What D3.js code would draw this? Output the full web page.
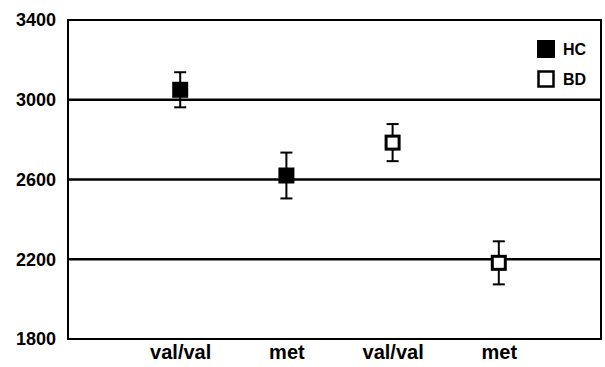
<!DOCTYPE html>
<html>
<head>
<meta charset="utf-8">
<script src="https://cdn.jsdelivr.net/npm/d3@7"></script>
<style>
  body { margin: 0; background: #fff; }
  text { font-family: Arial, "Liberation Sans", sans-serif; font-weight: bold; }
</style>
</head>
<body>
<script>
const categories = ['val/val', 'met', 'val/val ', 'met ']
const groups = ['HC', 'HC', 'BD', 'BD']
const means = [3050, 2620, 2785, 2182]
const errors = [88, 115, 93, 108]
const yTicks = [1800, 2200, 2600, 3000, 3400]
const gridLines = [2200, 2600, 3000]
const legendItems = ['HC', 'BD']

const width = 605, height = 367
const margin = {top: 20, right: 4, bottom: 28, left: 68}

const svg = d3.select('body').append('svg')
    .attr('width', width)
    .attr('height', height)

const x = d3.scalePoint()
    .domain(categories)
    .range([margin.left + 6, width])
    .padding(1)

const y = d3.scaleLinear()
    .domain([1800, 3400])
    .range([height - margin.bottom, margin.top])

// grid lines
svg.append('g')
    .selectAll('line')
    .data(gridLines)
    .join('line')
    .attr('x1', margin.left)
    .attr('x2', width - margin.right)
    .attr('y1', d => y(d))
    .attr('y2', d => y(d))
    .attr('stroke', '#000')
    .attr('stroke-width', 2.5)

// frame
svg.append('rect')
    .attr('x', margin.left)
    .attr('y', margin.top)
    .attr('width', width - margin.right - margin.left)
    .attr('height', height - margin.bottom - margin.top)
    .attr('fill', 'none')
    .attr('stroke', '#000')
    .attr('stroke-width', 2)

// y axis labels
const yAxis = svg.append('g')
    .attr('transform', `translate(${margin.left},0)`)
    .call(d3.axisLeft(y).tickValues(yTicks).tickFormat(d3.format('d')).tickSize(0).tickPadding(12))
yAxis.select('.domain').remove()
yAxis.attr('font-size', 18)
    .attr('font-family', 'Arial, "Liberation Sans", sans-serif')
    .attr('font-weight', 'bold')
yAxis.selectAll('text').attr('fill', '#000')

// x axis labels
const xAxis = svg.append('g')
    .attr('transform', `translate(0,${height - margin.bottom})`)
    .call(d3.axisBottom(x).tickSize(0).tickPadding(6))
xAxis.select('.domain').remove()
xAxis.attr('font-size', 20)
    .attr('font-family', 'Arial, "Liberation Sans", sans-serif')
    .attr('font-weight', 'bold')
xAxis.selectAll('text').attr('fill', '#000')

// error bars + points
const pts = categories.map((c, i) => ({c, g: groups[i], m: means[i], e: errors[i]}))
const cap = 6
const pt = svg.append('g').selectAll('g')
    .data(pts)
    .join('g')
    .attr('transform', d => `translate(${x(d.c)},0)`)

pt.append('line')
    .attr('y1', d => y(d.m + d.e))
    .attr('y2', d => y(d.m - d.e))
    .attr('stroke', '#000')
    .attr('stroke-width', 2)
pt.selectAll('line.cap')
    .data(d => [d.m + d.e, d.m - d.e])
    .join('line')
    .attr('class', 'cap')
    .attr('x1', -cap)
    .attr('x2', cap)
    .attr('y1', d => y(d))
    .attr('y2', d => y(d))
    .attr('stroke', '#000')
    .attr('stroke-width', 2)

const size = 16
pt.append('rect')
    .attr('x', d => d.g === 'HC' ? -size / 2 : -size / 2 + 1.5)
    .attr('y', d => y(d.m) - size / 2 + (d.g === 'HC' ? 0 : 1.5))
    .attr('width', d => d.g === 'HC' ? size : size - 3)
    .attr('height', d => d.g === 'HC' ? size : size - 3)
    .attr('fill', d => d.g === 'HC' ? '#000' : '#fff')
    .attr('stroke', '#000')
    .attr('stroke-width', d => d.g === 'HC' ? 0 : 3)

// legend
const legend = svg.append('g')
    .attr('transform', 'translate(537,40)')
const li = legend.selectAll('g')
    .data(legendItems)
    .join('g')
    .attr('transform', (d, i) => `translate(0,${i * 30})`)
li.append('rect')
    .attr('x', d => d === 'HC' ? 0 : 1.5)
    .attr('y', d => d === 'HC' ? 0 : 1.5)
    .attr('width', d => d === 'HC' ? 18 : 15)
    .attr('height', d => d === 'HC' ? 18 : 15)
    .attr('fill', d => d === 'HC' ? '#000' : '#fff')
    .attr('stroke', '#000')
    .attr('stroke-width', d => d === 'HC' ? 0 : 2.5)
li.append('text')
    .attr('x', 26)
    .attr('y', 9)
    .attr('dy', '0.36em')
    .attr('font-size', 16)
    .text(d => d)
</script>
</body>
</html>
